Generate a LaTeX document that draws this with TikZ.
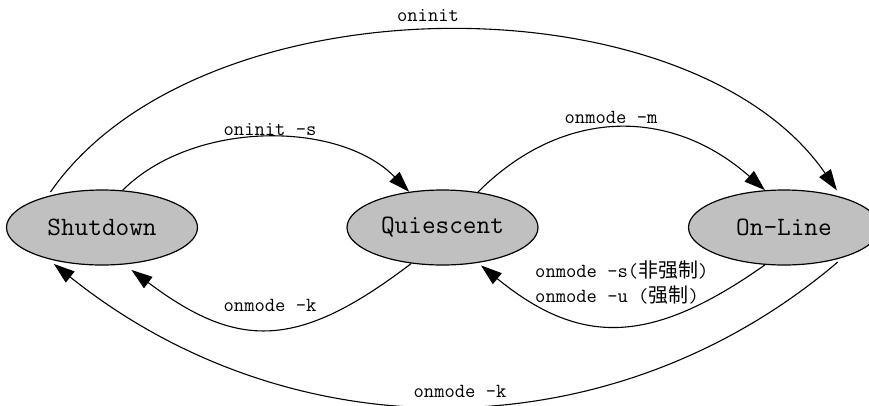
\documentclass[tikz,border=0pt]{standalone}
\usepackage{fontspec}
\newfontfamily\cjk{Noto Sans CJK SC}
\usetikzlibrary{shapes.geometric,arrows.meta}
\definecolor{stategray}{RGB}{192,192,192}
\begin{document}
\begin{tikzpicture}[x=1pt,y=-1pt,
  state/.style={ellipse, draw, line width=1.2pt, fill=stategray, minimum width=191pt, minimum height=75pt, inner sep=0pt, font=\ttfamily\fontsize{26.5}{26}\selectfont},
  edge/.style={line width=1.1pt, -{Triangle[length=21pt,width=14pt]}},
  lbl/.style={font=\ttfamily\fontsize{20}{24}\selectfont, inner sep=0pt}]
\useasboundingbox (0,0) rectangle (869,405);
\clip (0,0) rectangle (869,405);
\node[state] (sd) at (102,227.5) {Shutdown};
\node[state] (q) at (442.5,227.5) {Quiescent};
\node[state] (ol) at (784,227.5) {On-Line};
% edges
\draw[edge, shorten <=5pt, shorten >=8pt] (sd.150) .. controls (200,-23) and (690,-23) .. (ol.28);
\draw[edge] (sd.61) .. controls (193,120) and (339,120) .. (q.133);
\draw[edge] (q.45) .. controls (563,107) and (671,107) .. (ol.117);
\draw[edge, shorten >=4pt] (ol.243) .. controls (650,346) and (580,346) .. (q.-45);
\draw[edge, shorten >=9pt] (q.229) .. controls (298,350) and (238,350) .. (sd.-59);
\draw[edge, shorten <=7pt, shorten >=8pt] (ol.-27) .. controls (612,454) and (291,454) .. (sd.210);
% labels
\node[lbl] (l1) at (428,16) {oninit};
\node[lbl] (l2) at (270,130) {oninit -s};
\node[lbl] (l3) at (611,117) {onmode -m};
\node[lbl, anchor=west] (l4) at (535,270) {onmode -s({\cjk 非强制})};
\node[lbl, anchor=west] (l5) at (535,295) {onmode -u ({\cjk 强制})};
\node[lbl] (l6) at (270,305) {onmode -k};
\node[lbl] (l7) at (460,391) {onmode -k};
\end{tikzpicture}
\end{document}
